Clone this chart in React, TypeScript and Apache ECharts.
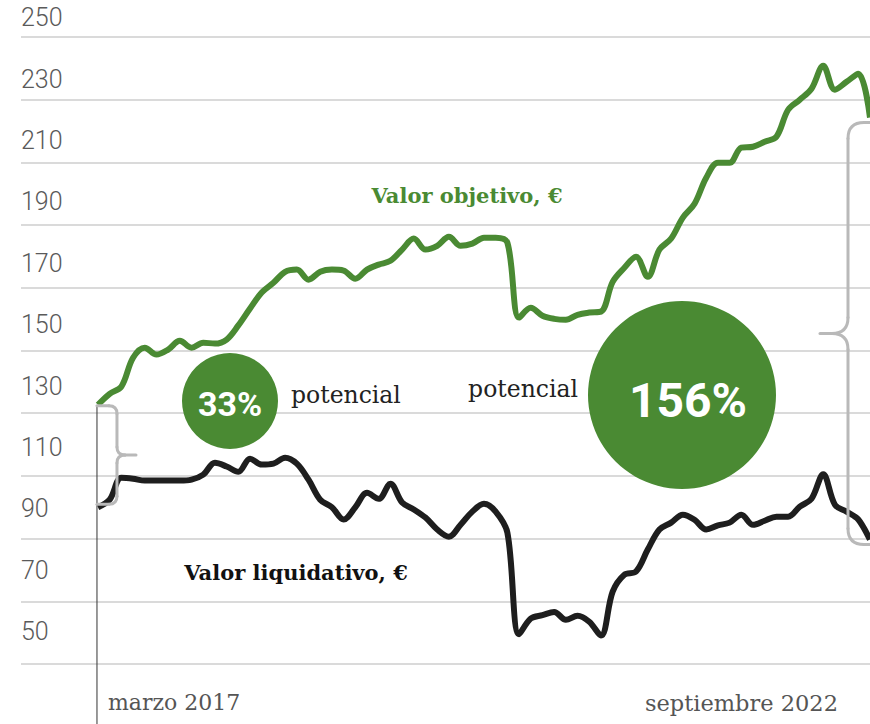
import React, { useEffect, useRef } from "react";
import * as echarts from "echarts";

// Monthly values, March 2017 -> September 2022 (index 0 = marzo 2017)
const valorObjetivo = [
  132.7, 136.2, 138.5, 147.7, 150.9, 148.7, 150.3, 153.1, 150.9, 152.5,
  152.2, 153.5, 158.0, 163.4, 168.5, 171.6, 175.1, 175.8, 172.6, 175.1,
  175.8, 175.5, 172.9, 175.8, 177.4, 178.6, 182.2, 185.7, 182.2, 183.4,
  186.3, 183.4, 184.1, 186.0, 186.0, 184.4, 160.5, 163.6, 161.1, 160.1,
  159.8, 161.4, 162.1, 162.4, 171.9, 176.4, 179.9, 173.5, 182.2, 185.7,
  192.4, 196.8, 205.1, 209.9, 209.9, 214.7, 215.0, 216.6, 218.2, 226.8,
  230.0, 233.5, 240.8, 233.2, 235.7, 238.3, 224.3,
];
const valorLiquidativo = [
  100.0, 102.4, 109.4, 109.1, 108.5, 108.5, 108.5, 108.5, 108.8, 110.4,
  114.2, 113.0, 111.3, 115.5, 113.6, 113.9, 115.8, 113.9, 108.8, 102.4,
  100.0, 96.1, 100.0, 104.6, 102.7, 107.5, 101.5, 99.3, 96.7, 92.9,
  90.6, 94.4, 98.6, 101.1, 98.6, 91.9, 59.5, 64.5, 65.6, 66.6,
  64.1, 65.4, 63.5, 59.1, 73.1, 78.5, 79.5, 86.5, 92.9, 95.1,
  97.6, 96.0, 92.9, 94.2, 95.1, 97.6, 94.4, 95.7, 97.0, 97.0,
  100.2, 102.7, 110.5, 100.8, 98.6, 96.1, 89.7,
];
const yMin = 50;
const yMax = 250;
const yInterval = 20;
const dateLabels = ["marzo 2017", "septiembre 2022"];
const potencialLabels = ["33%", "156%"];
const seriesNames = ["Valor objetivo, €", "Valor liquidativo, €"];

const GREEN = "#4a8a33";
const BLACK = "#1e1e1e";
const GREY = "#b9b9b9";
const SERIF = "'Roboto Slab', 'DejaVu Serif', serif";
const SANS = "Roboto, 'Noto Sans', sans-serif";

function brace(x0: number, xv: number, xTip: number, yTop: number, yBot: number, r: number) {
  const dir = Math.sign(xv - x0);
  const yMid = (yTop + yBot) / 2;
  const st = { stroke: GREY, lineWidth: 3, fill: "none", lineCap: "round" };
  const els: any[] = [];
  const line = (x1: number, y1: number, x2: number, y2: number) =>
    els.push({ type: "line", shape: { x1, y1, x2, y2 }, style: st, z: 5 });
  const curve = (x1: number, y1: number, cx: number, cy: number, x2: number, y2: number) =>
    els.push({ type: "bezierCurve", shape: { x1, y1, cpx1: cx, cpy1: cy, x2, y2 }, style: st, z: 5 });
  line(x0, yTop, xv - dir * r, yTop);
  curve(xv - dir * r, yTop, xv, yTop, xv, yTop + r);
  line(xv, yTop + r, xv, yMid - r);
  curve(xv, yMid - r, xv, yMid, xv + dir * r, yMid);
  line(xv + dir * r, yMid, xTip, yMid);
  curve(xv, yMid + r, xv, yMid, xv + dir * r, yMid);
  line(xv, yMid + r, xv, yBot - r);
  curve(xv, yBot - r, xv, yBot, xv - dir * r, yBot);
  line(xv - dir * r, yBot, x0, yBot);
  return els;
}

export default function App() {
  const ref = useRef<HTMLDivElement>(null);
  useEffect(() => {
    const chart = echarts.init(ref.current!, null, { renderer: "svg" });
    const n = valorObjetivo.length;
    const idx = valorObjetivo.map((_, i) => i);
    chart.setOption({
      animation: false,
      grid: [
        { left: 21, right: 0, top: 37, bottom: 60, containLabel: false },
        { left: 21, right: 0, top: 17.8, bottom: 92.3, containLabel: false },
      ],
      xAxis: [
        { type: "value", gridIndex: 0, min: -6.58, max: n - 1, show: false, splitLine: { show: false } },
        { type: "value", gridIndex: 1, min: 0, max: 1, show: false, splitLine: { show: false } },
      ],
      yAxis: [
        {
          type: "value",
          gridIndex: 0,
          min: yMin,
          max: yMax,
          interval: yInterval,
          axisLine: { show: false },
          axisTick: { show: false },
          axisLabel: { show: false },
          splitLine: { lineStyle: { color: "#dadada", width: 2 } },
        },
        {
          type: "value",
          gridIndex: 1,
          min: yMin,
          max: yMax,
          interval: yInterval,
          axisLine: { show: false },
          axisTick: { show: false },
          splitLine: { show: false },
          axisLabel: {
            inside: true,
            margin: 0,
            align: "left",
            verticalAlign: "middle",
            fontSize: 25,
            fontWeight: 300,
            fontFamily: SANS,
            color: "#5a5a5a",
          },
        },
      ],
      series: [
        {
          name: seriesNames[0],
          type: "line",
          xAxisIndex: 0,
          yAxisIndex: 0,
          data: idx.map((i) => [i, valorObjetivo[i]]),
          smooth: 0.35,
          symbol: "none",
          lineStyle: { color: GREEN, width: 6 },
          z: 3,
        },
        {
          name: seriesNames[1],
          type: "line",
          xAxisIndex: 0,
          yAxisIndex: 0,
          data: idx.map((i) => [i, valorLiquidativo[i]]),
          smooth: 0.35,
          symbol: "none",
          lineStyle: { color: BLACK, width: 6 },
          z: 3,
        },
      ],
    });

    const px = (i: number, v: number) => chart.convertToPixel({ gridIndex: 0 }, [i, v]) as number[];
    const g0 = px(0, valorObjetivo[0]);
    const b0 = px(0, valorLiquidativo[0]);
    const gN = px(n - 1, valorObjetivo[n - 1]);
    const bN = px(n - 1, valorLiquidativo[n - 1]);
    const x0 = g0[0] - 1;

    const graphic: any[] = [
      {
        type: "line",
        shape: { x1: x0, y1: g0[1] + 1, x2: x0, y2: 724 },
        style: { stroke: "#333", lineWidth: 1 },
        z: 4,
      },
      ...brace(x0, x0 + 20, x0 + 39, g0[1] + 1, b0[1] - 3, 8),
      ...brace(gN[0], gN[0] - 22, gN[0] - 50, gN[1] + 5, bN[1] + 5, 16),
      { type: "circle", shape: { cx: 230, cy: 401, r: 48 }, style: { fill: GREEN }, z: 6 },
      { type: "circle", shape: { cx: 682, cy: 395, r: 94 }, style: { fill: GREEN }, z: 6 },
      {
        type: "text", x: 230, y: 404, z: 7,
        style: { text: potencialLabels[0], fill: "#fff", fontSize: 34, fontWeight: "bold", fontFamily: SANS, align: "center", verticalAlign: "middle" },
      },
      {
        type: "text", x: 688, y: 400, z: 7,
        style: { text: potencialLabels[1], fill: "#fff", fontSize: 48, fontWeight: "bold", fontFamily: SANS, align: "center", verticalAlign: "middle" },
      },
      {
        type: "text", x: 291, y: 395, z: 7,
        style: { text: "potencial", fill: "#222", fontSize: 23.5, fontFamily: SERIF, align: "left", verticalAlign: "middle" },
      },
      {
        type: "text", x: 578, y: 389, z: 7,
        style: { text: "potencial", fill: "#222", fontSize: 23.5, fontFamily: SERIF, align: "right", verticalAlign: "middle" },
      },
      {
        type: "text", x: 467, y: 195, z: 7,
        style: { text: seriesNames[0], fill: GREEN, fontSize: 21, fontWeight: "bold", fontFamily: SERIF, align: "center", verticalAlign: "middle" },
      },
      {
        type: "text", x: 296, y: 572, z: 7,
        style: { text: seriesNames[1], fill: "#111", fontSize: 21, fontWeight: "bold", fontFamily: SERIF, align: "center", verticalAlign: "middle" },
      },
      {
        type: "text", x: 108, y: 702, z: 7,
        style: { text: dateLabels[0], fill: "#555", fontSize: 22, fontFamily: SERIF, align: "left", verticalAlign: "middle" },
      },
      {
        type: "text", x: 838, y: 703, z: 7,
        style: { text: dateLabels[1], fill: "#555", fontSize: 22.5, fontFamily: SERIF, align: "right", verticalAlign: "middle" },
      },
    ];
    chart.setOption({ graphic });
    return () => chart.dispose();
  }, []);
  return <div ref={ref} style={{ position: "absolute", left: 0, top: 0, width: 870, height: 724 }} />;
}
